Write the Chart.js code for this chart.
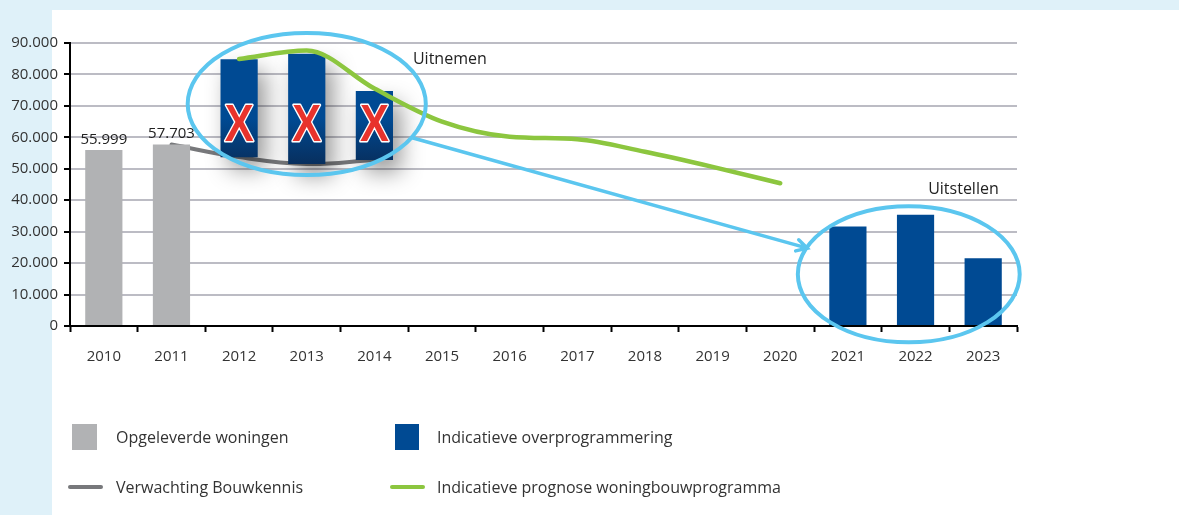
<!doctype html>
<html lang="nl">
<head>
<meta charset="utf-8">
<title>Woningbouwprogramma</title>
<style>
  html, body { margin: 0; padding: 0; }
  body { width: 1179px; height: 515px; background: #dff1f9; position: relative; overflow: hidden;
         font-family: "Open Sans", "Noto Sans", sans-serif; }
  #panel { position: absolute; left: 52px; top: 10px; right: 0; bottom: 0; background: #fff; }
  #canvas { position: absolute; left: 0; top: 0; }
  .lg { position: absolute; font-size: 16px; color: #333; line-height: 20px; white-space: nowrap; }
  .sw { position: absolute; }
</style>
</head>
<body>
<div id="panel"></div>
<canvas id="canvas" width="1179" height="515"></canvas>

<div class="sw" style="left:72px;top:424px;width:25px;height:26px;background:#b1b2b4"></div>
<div class="lg" style="left:116px;top:427px">Opgeleverde woningen</div>
<div class="sw" style="left:395px;top:424px;width:24px;height:26px;background:#004a93"></div>
<div class="lg" style="left:437px;top:427px">Indicatieve overprogrammering</div>
<div class="sw" style="left:68px;top:485px;width:35px;height:4px;border-radius:2px;background:#77787b"></div>
<div class="lg" style="left:116px;top:477px">Verwachting Bouwkennis</div>
<div class="sw" style="left:390px;top:485px;width:35px;height:4px;border-radius:2px;background:#8cc63f"></div>
<div class="lg" style="left:437px;top:477px">Indicatieve prognose woningbouwprogramma</div>

<script src="https://cdn.jsdelivr.net/npm/chart.js@4"></script>
<script>
const years = ['2010','2011','2012','2013','2014','2015','2016','2017','2018','2019','2020','2021','2022','2023'];

// opgeleverde woningen
const opgeleverd = [55999, 57703, null, null, null, null, null, null, null, null, null, null, null, null];
// overprogrammering die uitgenomen wordt (2012-2014), zwevend boven de Bouwkennis-lijn
const uitnemen = [null, null, [53700, 84800], [51500, 86600], [52800, 74700], null, null, null, null, null, null, null, null, null];
// overprogrammering die uitgesteld wordt (2021-2023)
const uitstellen = [null, null, null, null, null, null, null, null, null, null, null, 31650, 35350, 21550];
// verwachting Bouwkennis
const bouwkennis = [null, 57703, 53700, 51500, 52800, null, null, null, null, null, null, null, null, null];
// indicatieve prognose woningbouwprogramma
const prognose = [null, null, 84900, 87600, 75500, 65000, 60200, 59400, 55400, 50600, 45400, null, null, null];

const yTicks = [0, 10000, 20000, 30000, 40000, 50000, 60000, 70000, 80000, 90000];

// annotaties in data-eenheden (categorie-index, waarde)
const ellipseUit = { cx: 3.0, cy: 70600, rx: 1.76, ry: 22600 };
const ellipseStel = { cx: 11.9, cy: 16460, rx: 1.64, ry: 21650 };
const arrow = { x1: 4.57, y1: 59800, x2: 10.40, y2: 24750 };
const crossIdx = [2, 3, 4];
const crossValue = 63800;

const fmt = v => String(v).replace(/\B(?=(\d{3})+(?!\d))/g, '.');
const FONT = '"Open Sans", "Noto Sans", sans-serif';

const shadowPlugin = {
  id: 'shadow',
  beforeDatasetDraw(chart, args) {
    if (args.index !== 1) return;
    const ctx = chart.ctx;
    ctx.save();
    ctx.shadowColor = 'rgba(0,0,0,0.4)';
    ctx.shadowBlur = 22;
    ctx.shadowOffsetX = 8;
    ctx.shadowOffsetY = 12;
  },
  afterDatasetDraw(chart, args) {
    if (args.index !== 1) return;
    chart.ctx.restore();
  }
};

// donkerder onderkant van de weggestreepte balken
function removedFill(context) {
  const chart = context.chart;
  if (!chart.chartArea) return '#004a93';
  const y = chart.scales.y;
  const g = chart.ctx.createLinearGradient(0, y.getPixelForValue(66000), 0, y.getPixelForValue(51000));
  g.addColorStop(0, '#004a93');
  g.addColorStop(1, '#082e5c');
  return g;
}

const annotations = {
  id: 'annotations',
  afterDatasetsDraw(chart) {
    const { ctx, scales: { x, y } } = chart;
    const cw = x.getPixelForValue(1) - x.getPixelForValue(0);
    const px = i => x.getPixelForValue(0) + i * cw;
    const py = v => y.getPixelForValue(v);
    const ppv = y.getPixelForValue(0) - y.getPixelForValue(10000);

    // value labels above grey bars
    ctx.save();
    ctx.font = '15px ' + FONT;
    ctx.fillStyle = '#222';
    ctx.textAlign = 'center';
    ctx.textBaseline = 'bottom';
    opgeleverd.forEach((v, i) => {
      if (v == null) return;
      ctx.fillText(fmt(v), px(i), py(v) - 3);
    });
    ctx.restore();

    // red crosses
    ctx.save();
    ctx.font = 'bold 51px "Liberation Sans", Arial, sans-serif';
    ctx.textAlign = 'center';
    ctx.textBaseline = 'middle';
    crossIdx.forEach(i => {
      ctx.save();
      ctx.translate(px(i), py(crossValue));
      ctx.scale(0.85, 1);
      ctx.lineWidth = 3;
      ctx.strokeStyle = '#fff';
      ctx.lineJoin = 'round';
      ctx.strokeText('X', 0, 2);
      ctx.fillStyle = '#e8332c';
      ctx.fillText('X', 0, 2);
      ctx.restore();
    });
    ctx.restore();

    // ellipses
    ctx.save();
    ctx.strokeStyle = '#5bc6ef';
    ctx.lineWidth = 4;
    [ellipseUit, ellipseStel].forEach(e => {
      ctx.beginPath();
      ctx.ellipse(px(e.cx), py(e.cy), e.rx * cw, e.ry / 10000 * ppv, 0, 0, Math.PI * 2);
      ctx.stroke();
    });

    // arrow
    const ax1 = px(arrow.x1), ay1 = py(arrow.y1), ax2 = px(arrow.x2), ay2 = py(arrow.y2);
    ctx.lineWidth = 3.5;
    ctx.lineCap = 'round';
    ctx.beginPath();
    ctx.moveTo(ax1, ay1);
    ctx.lineTo(ax2, ay2);
    const ang = Math.atan2(ay2 - ay1, ax2 - ax1);
    const hl = 12;
    ctx.moveTo(ax2 - hl * Math.cos(ang - 0.5), ay2 - hl * Math.sin(ang - 0.5));
    ctx.lineTo(ax2, ay2);
    ctx.lineTo(ax2 - hl * Math.cos(ang + 0.5), ay2 - hl * Math.sin(ang + 0.5));
    ctx.stroke();
    ctx.restore();

    // annotation texts
    ctx.save();
    ctx.font = '16px ' + FONT;
    ctx.fillStyle = '#222';
    ctx.textBaseline = 'middle';
    ctx.textAlign = 'left';
    ctx.fillText('Uitnemen', px(4.57), py(84700));
    ctx.textAlign = 'right';
    ctx.fillText('Uitstellen', px(13.23), py(43500));
    ctx.restore();
  }
};

new Chart(document.getElementById('canvas'), {
  data: {
    labels: years,
    datasets: [
      { type: 'bar', label: 'Opgeleverde woningen', data: opgeleverd, backgroundColor: '#b1b2b4', order: 2 },
      { type: 'bar', label: 'Indicatieve overprogrammering', data: uitnemen, backgroundColor: removedFill, order: 2 },
      { type: 'bar', label: 'Indicatieve overprogrammering (uitstellen)', data: uitstellen, backgroundColor: '#004a93', order: 2 },
      { type: 'line', label: 'Verwachting Bouwkennis', data: bouwkennis, borderColor: '#77787b', borderWidth: 4,
        pointRadius: 0, tension: 0.4, borderCapStyle: 'round', order: 3 },
      { type: 'line', label: 'Indicatieve prognose woningbouwprogramma', data: prognose, borderColor: '#8cc63f', borderWidth: 4.5,
        pointRadius: 0, cubicInterpolationMode: 'monotone', borderCapStyle: 'round', order: 1 }
    ]
  },
  options: {
    responsive: false,
    animation: false,
    devicePixelRatio: 1,
    layout: { padding: { left: 0, top: 43, right: 162, bottom: 129 } },
    datasets: { bar: { grouped: false, barPercentage: 0.55, categoryPercentage: 1 } },
    plugins: { legend: { display: false }, tooltip: { enabled: false } },
    scales: {
      x: {
        offset: true,
        grid: { offset: true, drawOnChartArea: false, drawTicks: true, tickLength: 6, tickColor: '#000', tickWidth: 2 },
        border: { color: '#000', width: 2 },
        ticks: { color: '#333', font: { family: FONT, size: 15 }, padding: 16, maxRotation: 0 },
        afterFit: s => { s.height = 60; }
      },
      y: {
        min: 0, max: 90000,
        afterBuildTicks: s => { s.ticks = yTicks.map(v => ({ value: v })); },
        grid: { color: '#bcbcc4', lineWidth: 2, tickLength: 6, tickColor: '#000', tickWidth: 2 },
        border: { color: '#000', width: 2 },
        ticks: { color: '#333', font: { family: FONT, size: 15 }, padding: 6, callback: v => fmt(v) },
        afterFit: s => { s.width = 70; }
      }
    }
  },
  plugins: [shadowPlugin, annotations]
});
</script>
</body>
</html>
